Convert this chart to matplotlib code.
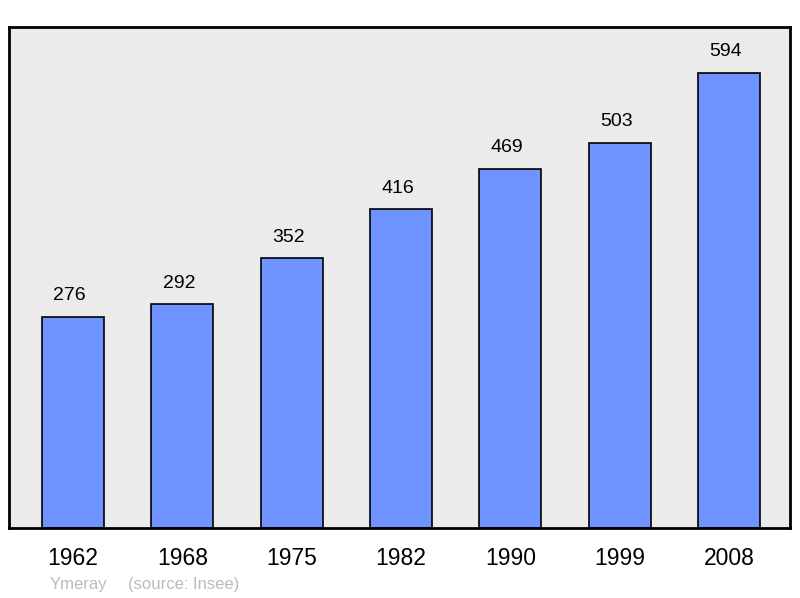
import matplotlib.pyplot as plt

plt.rcParams['font.family'] = ['Liberation Sans', 'DejaVu Sans']

# population par recensement
annees = ['1962', '1968', '1975', '1982', '1990', '1999', '2008']
population = [276, 292, 352, 416, 469, 503, 594]

fig = plt.figure(figsize=(8, 5.98), dpi=100)
ax = fig.add_axes([9 / 800, 70 / 598, 781 / 800, 501 / 598])
ax.set_facecolor('#ebebeb')

x = range(len(annees))
barres = ax.bar(x, population, width=0.567, color='#7094ff',
                edgecolor='black', linewidth=1.2, zorder=2)

for xi, val in zip(x, population):
    ax.annotate(str(val), (xi, val), xytext=(-2.5, 9), textcoords='offset points',
                ha='center', va='bottom', fontsize=14)

ax.set_xlim(-0.585, 6.558)
ax.set_ylim(0, 654)
ax.set_yticks([])
ax.set_xticks(list(x))
ax.set_xticklabels(annees, fontsize=16.5)
ax.tick_params(axis='x', length=0, pad=14)
for s in ax.spines.values():
    s.set_linewidth(2)

fig.text(50 / 800, 1 - 584 / 598, 'Ymeray', color='#bbbbbb', fontsize=12,
         va='center')
fig.text(128 / 800, 1 - 584 / 598, '(source: Insee)', color='#bbbbbb',
         fontsize=12, va='center')

fig.savefig('out.png', dpi=100)
